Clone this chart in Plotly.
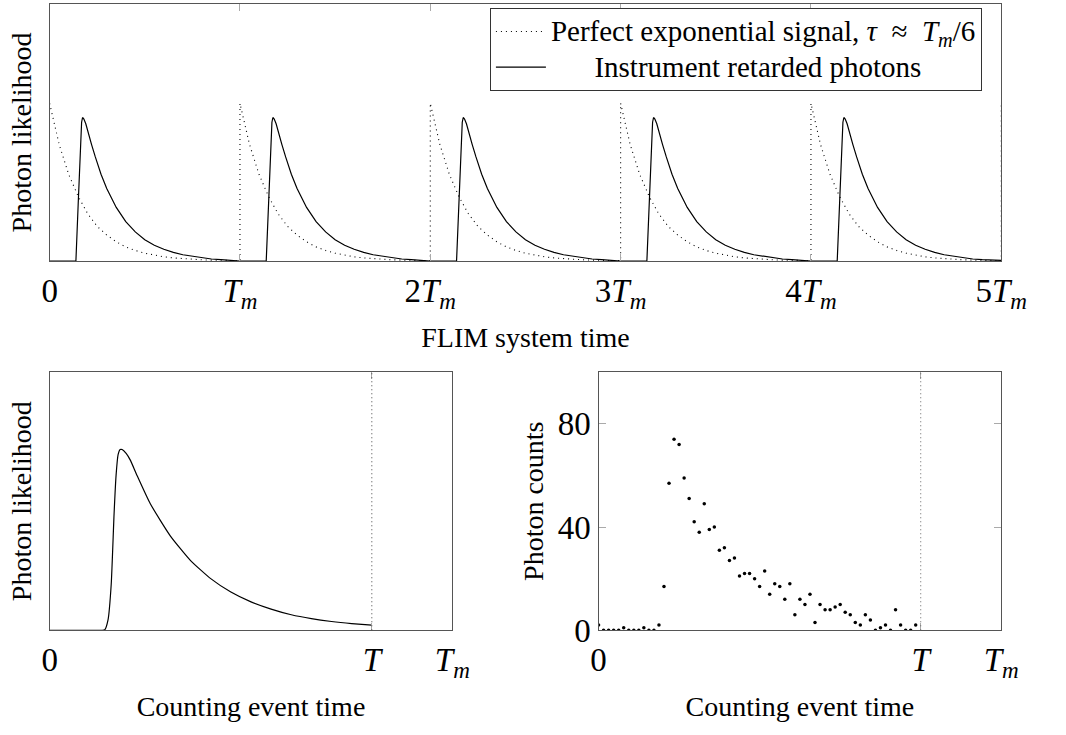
import plotly.graph_objects as go

# ---------------- data ----------------
# Top panel: one modulation period, time in units of T_m
exp_t = [0.0, 0.05, 0.10, 0.15, 0.20, 0.25, 0.30, 0.35, 0.40, 0.45, 0.50,
         0.55, 0.60, 0.65, 0.70, 0.75, 0.80, 0.85, 0.90, 0.95, 1.0]
exp_signal = [1.0, 0.74, 0.55, 0.41, 0.30, 0.22, 0.165, 0.122, 0.09, 0.067, 0.05,
              0.037, 0.027, 0.02, 0.015, 0.011, 0.008, 0.006, 0.0045, 0.0033, 0.0025]

inst_t = [0.0, 0.138, 0.150, 0.160, 0.168, 0.173, 0.180, 0.19, 0.20, 0.22, 0.24,
          0.27, 0.30, 0.35, 0.40, 0.45, 0.50, 0.55, 0.60, 0.65, 0.70, 0.75,
          0.80, 0.85, 0.90, 0.95, 1.0]
inst_signal = [0.0, 0.0, 0.36, 0.66, 0.88, 0.91, 0.90, 0.87, 0.82, 0.74, 0.66,
               0.55, 0.46, 0.34, 0.25, 0.185, 0.135, 0.10, 0.075, 0.055, 0.04, 0.03,
               0.02, 0.013, 0.009, 0.006, 0.004]
n_periods = 5

# Bottom-left panel: counting-event-time likelihood (T = 0.8 T_m)
T_frac = 0.8
count_t = [0.0, 0.130, 0.137, 0.145, 0.153, 0.160, 0.165, 0.170, 0.175, 0.180,
           0.19, 0.20, 0.217, 0.25, 0.30, 0.35, 0.40, 0.45, 0.50, 0.55, 0.60,
           0.65, 0.70, 0.75, 0.80]
count_likelihood = [0.0, 0.0, 0.002, 0.04, 0.18, 0.45, 0.60, 0.68, 0.70, 0.70,
                    0.685, 0.66, 0.60, 0.49, 0.365, 0.27, 0.20, 0.148, 0.11, 0.082, 0.06,
                    0.045, 0.034, 0.026, 0.02]

# Bottom-right panel: photon counts in 64 bins over [0, T)
photon_counts = [2, 0, 0, 0, 0, 1, 0, 0, 0, 1, 0, 0, 2, 17, 57, 74, 72, 59, 51, 42,
                 38, 49, 39, 40, 31, 32, 27, 28, 21, 22, 22, 20, 17, 23, 14, 18, 17, 12,
                 18, 6, 12, 10, 14, 3, 10, 8, 8, 9, 10, 7, 6, 3, 2, 6, 4, 0, 1, 2, 0,
                 8, 2, 0, 0, 2]
n_bins = len(photon_counts)

top_ticks = [0, 1, 2, 3, 4, 5]
top_ticktext = ["0", "<i>T</i><sub><i>m</i></sub>", "2<i>T</i><sub><i>m</i></sub>",
                "3<i>T</i><sub><i>m</i></sub>", "4<i>T</i><sub><i>m</i></sub>",
                "5<i>T</i><sub><i>m</i></sub>"]
bottom_ticks = [0, T_frac, 1.0]
bottom_ticktext = ["0", "<i>T</i>", "<i>T</i><sub><i>m</i></sub>"]
count_ticks = [0, 40, 80]

# ---------------- build periodic series ----------------
top_exp_x, top_exp_y, top_inst_x, top_inst_y = [], [], [], []
for k in range(n_periods):
    top_exp_x += [k + t for t in exp_t]
    top_exp_y += exp_signal
    top_inst_x += [k + t for t in inst_t]
    top_inst_y += inst_signal
top_exp_x.append(n_periods)
top_exp_y.append(exp_signal[0])

bin_x = [i * T_frac / n_bins for i in range(n_bins)]

FONT = "Liberation Serif, Times New Roman, serif"
W, H = 1066, 735
NB = "&nbsp;"


def big(s):
    return '<span style="font-size:29px">' + s + "</span>"


fig = go.Figure()
fig.add_trace(go.Scatter(x=top_exp_x, y=top_exp_y, mode="lines",
                         line=dict(color="black", width=1.1, dash="1px,4px"),
                         name=big("Perfect exponential signal, <i>τ</i>" + NB * 2 + "≈" + NB * 2
                                  + "<i>T</i><sub><i>m</i></sub>/6"),
                         xaxis="x", yaxis="y"))
fig.add_trace(go.Scatter(x=top_inst_x, y=top_inst_y, mode="lines",
                         line=dict(color="black", width=1.2),
                         name=big(NB * 6 + "Instrument retarded photons"),
                         xaxis="x", yaxis="y"))
fig.add_trace(go.Scatter(x=count_t, y=count_likelihood, mode="lines",
                         line=dict(color="black", width=1.2, shape="spline", smoothing=0.5),
                         showlegend=False, xaxis="x2", yaxis="y2"))
fig.add_trace(go.Scatter(x=bin_x, y=photon_counts, mode="markers",
                         marker=dict(color="black", size=3.5),
                         showlegend=False, xaxis="x3", yaxis="y3"))


def px_x(p):
    return p / W


def px_y(p):
    return 1 - p / H


TICKFONT = dict(family=FONT, size=33, color="black")
TITLEFONT = dict(family=FONT, size=28, color="black")

axis_common = dict(showline=True, linecolor="#555555", linewidth=1.2, mirror="ticks",
                   showgrid=False, zeroline=False, ticks="inside", ticklen=7,
                   tickcolor="#aaaaaa", tickfont=TICKFONT)
yaxis_plain = dict(showticklabels=False, showline=True, linecolor="#555555", linewidth=1.2,
                   mirror=True, showgrid=False, zeroline=False, ticks="")

fig.update_layout(
    width=W, height=H,
    margin=dict(l=0, r=0, t=0, b=0),
    paper_bgcolor="white", plot_bgcolor="white",
    font=dict(family=FONT, size=28, color="black"),
    showlegend=True,
    legend=dict(x=px_x(1006), xanchor="right", y=px_y(8), yanchor="top",
                bgcolor="white", bordercolor="#333333", borderwidth=1,
                font=dict(family=FONT, size=25), itemwidth=50,
                tracegroupgap=0),
    xaxis=dict(domain=[px_x(43), px_x(1026)], range=[0, n_periods],
               tickvals=top_ticks, ticktext=top_ticktext, anchor="y",
               title=dict(text="FLIM system time", standoff=14, font=TITLEFONT),
               **axis_common),
    yaxis=dict(domain=[px_y(268), px_y(4)], range=[0, 1.63], anchor="x",
               title=dict(text="Photon likelihood", standoff=8, font=TITLEFONT),
               **yaxis_plain),
    xaxis2=dict(domain=[px_x(43), px_x(459)], range=[0, 1.0],
                tickvals=bottom_ticks, ticktext=bottom_ticktext, anchor="y2",
                title=dict(text="Counting event time", standoff=14, font=TITLEFONT),
                **axis_common),
    yaxis2=dict(domain=[px_y(647), px_y(382)], range=[0, 1.0], anchor="x2",
                title=dict(text="Photon likelihood", standoff=8, font=TITLEFONT),
                **yaxis_plain),
    xaxis3=dict(domain=[px_x(610), px_x(1026)], range=[0, 1.0],
                tickvals=bottom_ticks, ticktext=bottom_ticktext, anchor="y3",
                title=dict(text="Counting event time", standoff=14, font=TITLEFONT),
                **axis_common),
    yaxis3=dict(domain=[px_y(647), px_y(382)], range=[0, 100], anchor="x3",
                tickvals=count_ticks,
                title=dict(text="Photon counts", standoff=6, font=TITLEFONT),
                **axis_common),
)

# dotted marker of the counting window end T
fig.add_shape(type="line", xref="x2", yref="y2 domain", x0=T_frac, x1=T_frac, y0=0, y1=1,
              line=dict(color="#444444", width=1, dash="1px,3px"))
fig.add_shape(type="line", xref="x3", yref="y3 domain", x0=T_frac, x1=T_frac, y0=0, y1=1,
              line=dict(color="#666666", width=1, dash="1px,3px"))

fig.write_html("out.html")
